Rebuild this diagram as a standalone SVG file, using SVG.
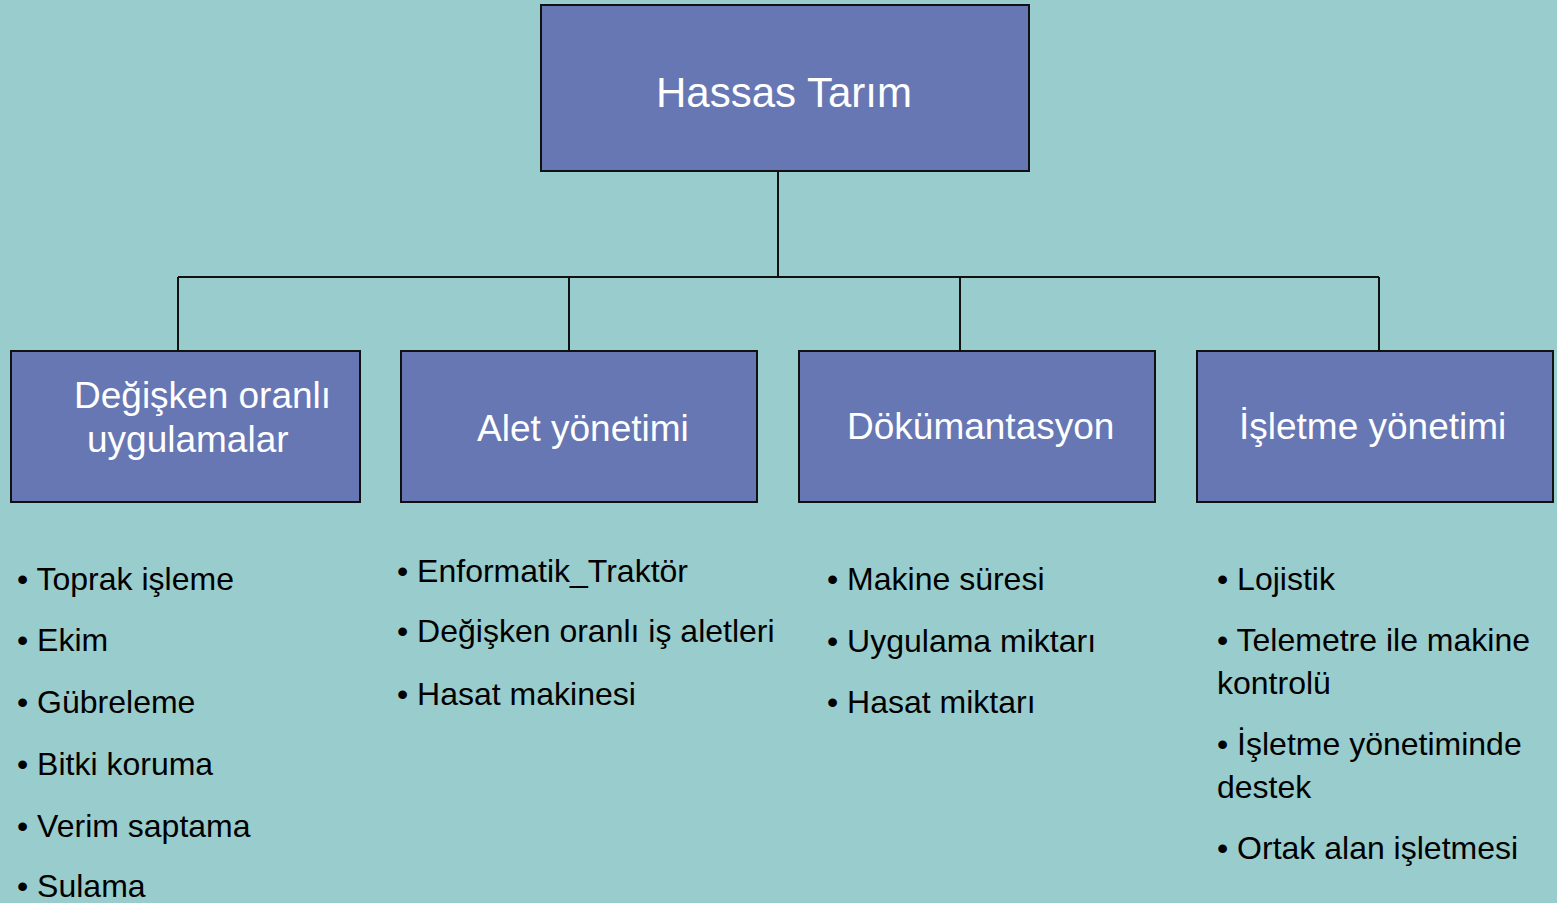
<svg xmlns="http://www.w3.org/2000/svg" width="1557" height="903" viewBox="0 0 1557 903">
<style>
.box{fill:#6677B4;stroke:#111;stroke-width:2}
.bt{font-family:"Liberation Sans",Arial,sans-serif;fill:#fff;font-size:37px}
.li{font-family:"Liberation Sans",Arial,sans-serif;fill:#000;font-size:32px}
.con{stroke:#111;stroke-width:2;fill:none}
</style>
<rect width="1557" height="903" fill="#99CCCC"/>
<g id="connectors">
<path class="con" d="M778 171V277M178 277H1379M178 277V351M569 277V351M960 277V351M1379 277V351"/>
</g>
<g id="root">
<rect class="box" x="541" y="5" width="488" height="166"/>
<text class="bt" x="656" y="107" style="font-size:42px">Hassas Tarım</text>
</g>
<g id="n1">
<rect class="box" x="11" y="351" width="349" height="151"/>
<text class="bt" x="74" y="408">Değişken oranlı</text>
<text class="bt" x="87" y="452">uygulamalar</text>
</g>
<g id="n2">
<rect class="box" x="401" y="351" width="356" height="151"/>
<text class="bt" x="477" y="441">Alet yönetimi</text>
</g>
<g id="n3">
<rect class="box" x="799" y="351" width="356" height="151"/>
<text class="bt" x="847" y="439">Dökümantasyon</text>
</g>
<g id="n4">
<rect class="box" x="1197" y="351" width="356" height="151"/>
<text class="bt" x="1239" y="439">İşletme yönetimi</text>
</g>
<g id="list1">
<text class="li" x="17" y="590">• Toprak işleme</text>
<text class="li" x="17" y="651">• Ekim</text>
<text class="li" x="17" y="713">• Gübreleme</text>
<text class="li" x="17" y="775">• Bitki koruma</text>
<text class="li" x="17" y="837">• Verim saptama</text>
<text class="li" x="17" y="897">• Sulama</text>
</g>
<g id="list2">
<text class="li" x="397" y="582">• Enformatik_Traktör</text>
<text class="li" x="397" y="642">• Değişken oranlı iş aletleri</text>
<text class="li" x="397" y="705">• Hasat makinesi</text>
</g>
<g id="list3">
<text class="li" x="827" y="590">• Makine süresi</text>
<text class="li" x="827" y="652">• Uygulama miktarı</text>
<text class="li" x="827" y="713">• Hasat miktarı</text>
</g>
<g id="list4">
<text class="li" x="1217" y="590">• Lojistik</text>
<text class="li" x="1217" y="651">• Telemetre ile makine</text>
<text class="li" x="1217" y="694">kontrolü</text>
<text class="li" x="1217" y="755">• İşletme yönetiminde</text>
<text class="li" x="1217" y="798">destek</text>
<text class="li" x="1217" y="859">• Ortak alan işletmesi</text>
</g>
</svg>
